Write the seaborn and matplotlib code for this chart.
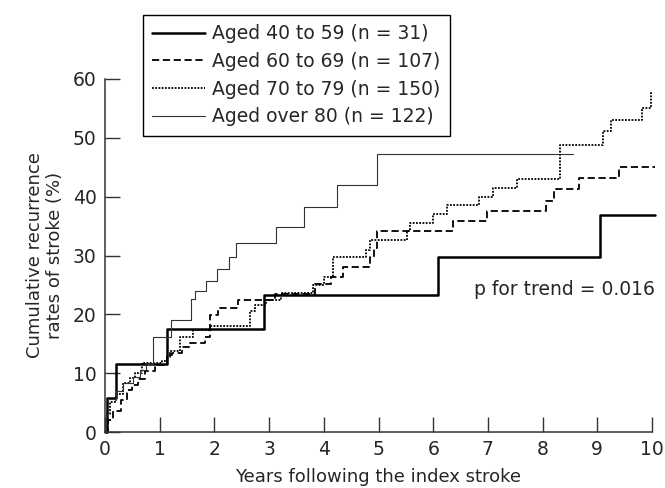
import matplotlib
matplotlib.use('Agg')
import matplotlib.pyplot as plt
import pandas as pd
import seaborn as sns

# step data (years, cumulative %)
age40_59_x = [0, 0.03, 0.21, 1.13, 2.90, 6.08, 9.05, 10.05]
age40_59_y = [0, 5.7, 11.5, 17.5, 23.3, 29.8, 36.8, 36.8]

age60_69_x = [0, 0.05, 0.15, 0.30, 0.40, 0.49, 0.60, 0.73, 0.91, 1.13, 1.22, 1.40, 1.55, 1.83, 1.92,
              2.07, 2.44, 3.11, 3.84, 4.14, 4.36, 4.84, 4.91, 4.98, 6.37, 6.98, 8.07, 8.20, 8.67, 9.40, 10.05]
age60_69_y = [0, 2.0, 3.5, 5.4, 7.1, 8.0, 9.0, 10.3, 11.4, 13.1, 13.4, 14.5, 15.1, 16.2, 19.9,
              21.0, 22.4, 23.5, 25.2, 26.4, 28.1, 29.7, 31.2, 34.2, 35.9, 37.5, 39.2, 41.3, 43.2, 45.1, 45.1]

age70_79_x = [0, 0.03, 0.09, 0.20, 0.33, 0.45, 0.55, 0.67, 1.04, 1.13, 1.19, 1.37, 1.60, 1.92, 2.65, 2.74,
              2.95, 3.21, 3.81, 4.00, 4.17, 4.78, 4.84, 5.52, 5.58, 6.00, 6.25, 6.83, 7.10, 7.53, 8.32,
              9.11, 9.25, 9.81, 9.99, 10.02]
age70_79_y = [0, 3.0, 5.1, 6.5, 8.3, 9.2, 10.0, 11.7, 12.0, 12.8, 13.7, 16.2, 17.4, 18.0, 20.5, 21.6,
              22.5, 23.6, 25.0, 26.4, 29.7, 31.0, 32.7, 34.2, 35.6, 37.0, 38.5, 40.0, 41.4, 43.0, 48.8,
              51.1, 53.1, 55.0, 57.6, 57.6]

over80_x = [0, 0.02, 0.05, 0.20, 0.33, 0.52, 0.64, 0.75, 0.87, 1.20, 1.57, 1.65, 1.84, 2.05, 2.27,
            2.39, 3.13, 3.63, 4.24, 4.97, 8.56]
over80_y = [0, 3.0, 5.6, 7.0, 8.3, 9.4, 10.5, 11.6, 16.2, 19.1, 22.6, 23.9, 25.7, 27.7, 29.8,
            32.2, 34.9, 38.2, 42.0, 47.3, 47.3]

labels = ['Aged 40 to 59 (n = 31)', 'Aged 60 to 69 (n = 107)',
          'Aged 70 to 79 (n = 150)', 'Aged over 80 (n = 122)']

sns.set_style('ticks')
plt.rcParams['font.family'] = ['DejaVu Sans']

fig = plt.figure(figsize=(6.65, 4.88), dpi=100)
ax = fig.add_axes([105 / 665, 1 - 432 / 488, (652 - 105) / 665, (432 - 79) / 488])

styles = [
    (age40_59_x, age40_59_y, dict(color='black', lw=1.8, linestyle='-')),
    (age60_69_x, age60_69_y, dict(color='black', lw=1.3, linestyle=(0, (4, 2)))),
    (age70_79_x, age70_79_y, dict(color='black', lw=1.3, linestyle=(0, (1, 0.8)))),
    (over80_x, over80_y, dict(color='#333333', lw=0.8, linestyle='-')),
]

for (xs, ys, kw), lab in zip(styles, labels):
    df = pd.DataFrame({'x': xs, 'y': ys})
    sns.lineplot(data=df, x='x', y='y', ax=ax, drawstyle='steps-post', estimator=None,
                 sort=False, label=lab, clip_on=False, **kw)

ax.set_xlim(0, 10)
ax.set_ylim(0, 60)
ax.set_xticks(range(0, 11))
ax.set_yticks(range(0, 61, 10))
ax.tick_params(direction='in', length=10.5, width=1, color='#333333', pad=6, labelsize=13.5)
sns.despine(ax=ax)
for s in ['left', 'bottom']:
    ax.spines[s].set_linewidth(1.1)
    ax.spines[s].set_color('#333333')

ax.set_xlabel('Years following the index stroke', fontsize=13, labelpad=6)
ax.set_ylabel('Cumulative recurrence\nrates of stroke (%)', fontsize=13, labelpad=6)

ax.text(10.05, 24.3, 'p for trend = 0.016', ha='right', va='center', fontsize=13.5)

leg = ax.legend(loc='upper left', bbox_to_anchor=(143 / 665, 1 - 15 / 488),
                bbox_transform=fig.transFigure, borderaxespad=0, frameon=True,
                fancybox=False, edgecolor='black', fontsize=13.5, handlelength=2.8,
                labelspacing=0.46, borderpad=0.5, handletextpad=0.4)
leg.get_frame().set_linewidth(1.0)
leg.get_frame().set_alpha(1)

fig.savefig('out.png', dpi=100)
